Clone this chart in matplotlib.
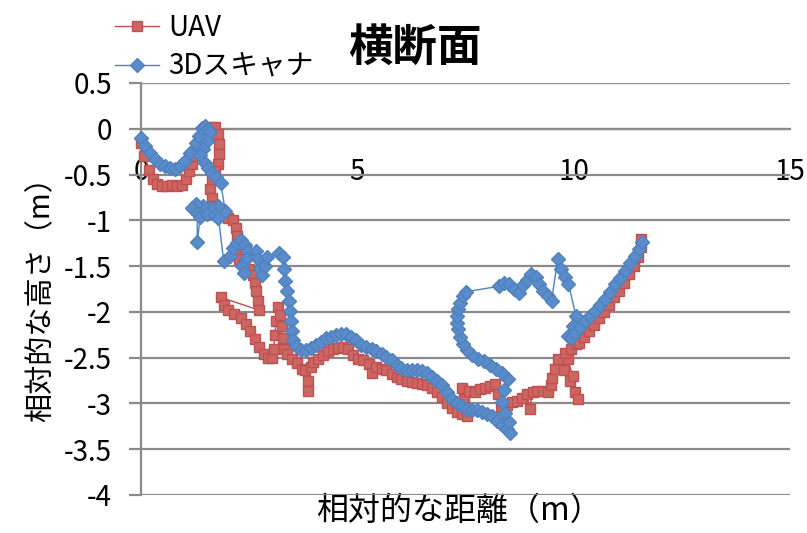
import matplotlib
matplotlib.use("Agg")
import matplotlib.pyplot as plt

plt.rcParams['font.family'] = ['Noto Sans CJK JP', 'DejaVu Sans']
plt.rcParams['axes.unicode_minus'] = False

# UAV survey profile (distance m, relative height m)
uav_x = [0.00, 0.08, 0.19, 0.28, 0.38, 0.49, 0.60, 0.72, 0.83, 0.95, 1.05, 1.12, 1.18, 1.23, 1.30,
         1.38, 1.49, 1.60, 1.70, 1.77, 1.81, 1.80, 1.78, 1.70, 1.63, 1.60, 1.63, 1.70, 1.79, 1.88,
         2.00, 2.12, 2.19, 2.23, 2.21, 2.19, 2.26, 2.37, 2.49, 2.58, 2.63, 2.65, 2.70, 2.72,
         1.84, 1.91, 2.02, 2.16, 2.30, 2.42, 2.53, 2.63, 2.72, 2.84, 2.93, 3.02, 3.07, 3.09, 3.12,
         3.16, 3.21, 3.26, 3.28, 3.30, 3.37, 3.49, 3.60, 3.72, 3.80, 3.86, 3.86, 3.93, 3.98, 4.09,
         4.21, 4.33, 4.44, 4.56, 4.67, 4.79, 4.91, 5.02, 5.14, 5.26, 5.33, 5.44, 5.56, 5.67, 5.79,
         5.91, 6.02, 6.14, 6.26, 6.37, 6.49, 6.60, 6.72, 6.84, 6.95, 7.07, 7.19, 7.30, 7.42, 7.53,
         7.47, 7.42, 7.58, 7.72, 7.84, 7.95, 8.07, 8.19, 8.26, 8.33, 8.47, 8.58, 8.70, 8.81, 8.93,
         8.98, 9.05, 9.16, 9.28, 9.40, 9.47, 9.51, 9.56, 9.63, 9.77, 9.91, 10.02, 10.09, 9.98, 9.86,
         9.81, 9.93, 10.05, 10.12, 10.23, 10.35, 10.47, 10.58, 10.70, 10.81, 10.93, 11.05, 11.16,
         11.28, 11.40, 11.49, 11.56, 11.56]
uav_y = [-0.15, -0.30, -0.45, -0.55, -0.60, -0.62, -0.62, -0.61, -0.62, -0.61, -0.55, -0.46, -0.38,
         -0.30, -0.22, -0.12, -0.02, 0.02, 0.02, -0.06, -0.17, -0.28, -0.38, -0.46, -0.56, -0.66,
         -0.76, -0.84, -0.90, -0.94, -0.97, -1.00, -1.08, -1.17, -1.27, -1.35, -1.42, -1.47, -1.53,
         -1.60, -1.68, -1.77, -1.88, -1.98,
         -1.84, -1.93, -1.98, -2.02, -2.07, -2.13, -2.21, -2.30, -2.38, -2.46, -2.50, -2.50, -2.40,
         -2.25, -2.10, -1.95, -2.03, -2.15, -2.28, -2.40, -2.46, -2.51, -2.56, -2.62, -2.64, -2.75,
         -2.86, -2.60, -2.55, -2.51, -2.47, -2.43, -2.41, -2.39, -2.38, -2.41, -2.47, -2.51, -2.53,
         -2.57, -2.67, -2.60, -2.62, -2.64, -2.68, -2.71, -2.73, -2.75, -2.77, -2.78, -2.79, -2.80,
         -2.83, -2.88, -2.93, -3.00, -3.05, -3.09, -3.12, -3.14, -2.95, -2.83, -2.86, -2.87, -2.84,
         -2.83, -2.81, -2.79, -2.90, -3.04, -3.02, -2.98, -2.97, -2.94, -2.90, -3.06, -2.88, -2.86,
         -2.86, -2.88, -2.80, -2.72, -2.62, -2.51, -2.64, -2.76, -2.87, -2.95, -2.70, -2.52, -2.45,
         -2.40, -2.35, -2.34, -2.27, -2.21, -2.14, -2.07, -2.00, -1.92, -1.84, -1.77, -1.68, -1.59,
         -1.50, -1.40, -1.29, -1.20]

# 3D scanner profile (distance m, relative height m)
scan_x = [0.00, 0.09, 0.21, 0.33, 0.44, 0.56, 0.67, 0.79, 0.91, 1.02, 1.14, 1.26, 1.33, 1.42, 1.49,
          1.56, 1.60, 1.53, 1.44, 1.37, 1.47, 1.56, 1.65, 1.74, 1.84,
          1.95, 1.79, 1.60, 1.44, 1.28, 1.19, 1.30, 1.30, 1.37, 1.53, 1.70, 1.79, 1.91,
          2.05, 2.12, 2.21, 2.30, 2.40, 2.47, 2.42, 2.33, 2.37, 2.65, 2.70, 2.74, 2.79, 2.86, 2.91,
          3.19, 3.28, 3.30, 3.33, 3.37, 3.42, 3.44, 3.47, 3.49, 3.51, 3.58, 3.70, 3.81, 3.93, 4.05,
          4.16, 4.28, 4.40, 4.51, 4.63, 4.74, 4.86, 4.98, 5.09, 5.21, 5.33, 5.44, 5.56, 5.67, 5.79,
          5.91, 6.02, 6.14, 6.26, 6.37, 6.49, 6.60, 6.72, 6.84, 6.95, 7.07, 7.19, 7.30, 7.42, 7.53,
          7.65, 7.77, 7.88, 8.00, 8.12, 8.23, 8.35, 8.47, 8.53, 8.50, 8.42, 8.35, 8.40, 8.49,
          8.35, 8.21, 8.07, 7.93, 7.79, 7.65, 7.53, 7.44, 7.37, 7.33, 7.30, 7.30, 7.33, 7.37, 7.44,
          7.51, 8.28, 8.40, 8.51, 8.63, 8.74, 8.84, 8.93, 9.02, 9.12, 9.21, 9.30, 9.40, 9.49, 9.63,
          9.70, 9.79, 9.88, 10.05, 9.98, 9.88, 9.93, 10.02, 10.14, 10.26, 10.37, 10.49, 10.60, 10.72,
          10.84, 10.95, 11.07, 11.19, 11.30, 11.42, 11.51, 11.58]
scan_y = [-0.10, -0.19, -0.26, -0.33, -0.38, -0.41, -0.43, -0.44, -0.41, -0.35, -0.26, -0.15, -0.08,
          0.01, 0.03, 0.00, -0.04, -0.13, -0.22, -0.29, -0.37, -0.43, -0.48, -0.53, -0.59,
          -0.90, -0.84, -0.86, -0.84, -0.82, -0.86, -0.92, -1.24, -0.96, -0.93, -0.94, -0.97, -1.44,
          -1.39, -1.30, -1.25, -1.22, -1.27, -1.33, -1.42, -1.50, -1.57, -1.33, -1.42, -1.52, -1.60,
          -1.50, -1.40, -1.36, -1.40, -1.53, -1.66, -1.77, -1.88, -1.99, -2.10, -2.21, -2.31, -2.37,
          -2.42, -2.42, -2.39, -2.36, -2.33, -2.29, -2.27, -2.25, -2.24, -2.24, -2.27, -2.31, -2.36,
          -2.38, -2.41, -2.43, -2.46, -2.49, -2.53, -2.58, -2.61, -2.63, -2.64, -2.64, -2.65, -2.67,
          -2.71, -2.75, -2.80, -2.88, -2.95, -3.00, -3.03, -3.06, -3.07, -3.07, -3.09, -3.11, -3.14,
          -3.19, -3.23, -3.28, -3.32, -3.20, -3.10, -2.98, -2.85, -2.73,
          -2.67, -2.62, -2.58, -2.54, -2.51, -2.47, -2.42, -2.35, -2.27, -2.19, -2.12, -2.04, -1.97,
          -1.90, -1.83, -1.78, -1.72, -1.68, -1.69, -1.75, -1.79, -1.71, -1.65, -1.59, -1.62, -1.69,
          -1.77, -1.83, -1.88, -1.42, -1.53, -1.62, -1.69, -2.04, -2.15, -2.26, -2.29, -2.23, -2.16,
          -2.10, -2.04, -1.99, -1.92, -1.86, -1.78, -1.70, -1.63, -1.55, -1.47, -1.39, -1.31, -1.24]

x_ticks = [0, 5, 10, 15]
x_tick_labels = ["0", "5", "10", "15"]
y_ticks = [-4, -3.5, -3, -2.5, -2, -1.5, -1, -0.5, 0, 0.5]
y_tick_labels = ["-4", "-3.5", "-3", "-2.5", "-2", "-1.5", "-1", "-0.5", "0", "0.5"]

RED = "#c0504d"
BLUE = "#4f81bd"
GRID = "#8a8a8a"

fig = plt.figure(figsize=(8.07, 5.33), dpi=100)
ax = fig.add_axes([141 / 807, 38 / 533, 649 / 807, 412 / 533])

ax.plot(uav_x, uav_y, color=RED, lw=1.0, marker="s", markersize=6.5,
        markerfacecolor="#cc6663", markeredgecolor=RED, markeredgewidth=1.0,
        label="UAV", clip_on=False, zorder=3)
ax.plot(scan_x, scan_y, color=BLUE, lw=1.0, marker="D", markersize=7.5,
        markerfacecolor="#5a8bcb", markeredgecolor=BLUE, markeredgewidth=1.0,
        label="3Dスキャナ", clip_on=False, zorder=4)

ax.set_xlim(0, 15)
ax.set_ylim(-4, 0.5)
ax.set_xticks(x_ticks)
ax.set_xticklabels(x_tick_labels)
ax.set_yticks(y_ticks)
ax.set_yticklabels(y_tick_labels)

ax.grid(axis="y", color=GRID, lw=1.6, zorder=0)
ax.set_axisbelow(True)
for side in ("top", "right"):
    ax.spines[side].set_visible(False)
ax.spines["bottom"].set_position(("data", 0))
ax.spines["bottom"].set_color(GRID)
ax.spines["bottom"].set_linewidth(1.6)
ax.spines["left"].set_color(GRID)
ax.spines["left"].set_linewidth(1.6)

ax.tick_params(axis="y", direction="out", length=9, width=1.6, color=GRID,
               pad=12, labelsize=20)
ax.tick_params(axis="x", length=0, pad=20, labelsize=20)

ax.set_xlabel("相対的な距離（m）", fontsize=23)
ax.xaxis.set_label_coords(0.49, 0.0)
ax.set_ylabel("相対的な高さ（m）", fontsize=21)
ax.yaxis.set_label_coords(-0.13, 0.493)

fig.text(415 / 807, 1 - 48 / 533, "横断面", fontsize=32, fontweight="bold",
         ha="center", va="center")

fig.legend(loc="upper left", bbox_to_anchor=(115 / 807, 1 - 13 / 533),
           frameon=False, fontsize=20, handlelength=1.6, handletextpad=0.3,
           labelspacing=0.3, borderpad=0, borderaxespad=0)

fig.savefig("out.png", dpi=100)
